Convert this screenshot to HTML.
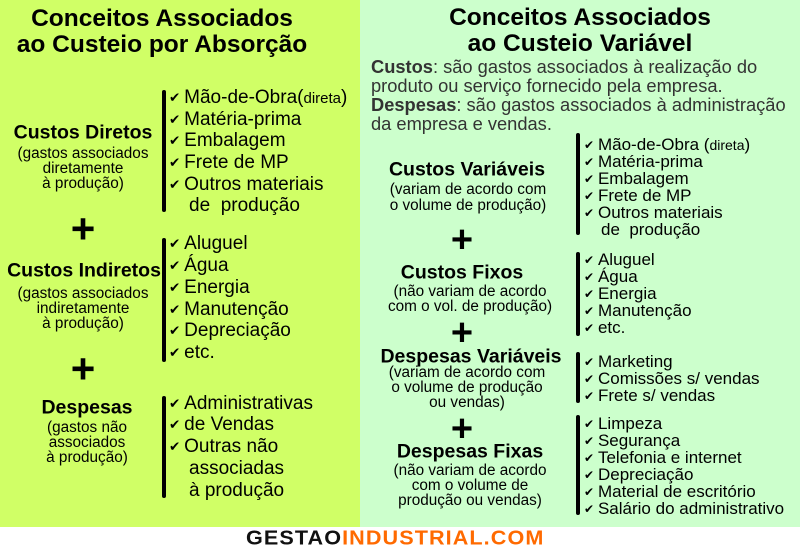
<!DOCTYPE html>
<html><head><meta charset="utf-8"><style>
body{margin:0;width:800px;height:550px;position:relative;overflow:hidden;background:#fff;font-family:"Liberation Sans",Arial,sans-serif;color:#000}
.l{position:absolute;left:0;top:0;width:360px;height:527px;background:#d0ff66}
.r{position:absolute;left:360px;top:0;width:440px;height:527px;background:#ccffcc}
.t{position:absolute;white-space:nowrap;transform:translateY(-50%)}
.c{transform:translate(-50%,-50%);text-align:center}
.b{font-weight:bold}
.br{position:absolute;width:4px;background:#000;border-radius:2px}
.pl{position:absolute;font-weight:bold;transform:translate(-50%,-50%);line-height:1}
.ck{font-size:0.7em;margin-right:4px;position:relative;top:-1px}
</style></head><body>
<div class="l"></div><div class="r"></div>

<div class="t c b" style="left:162px;top:19px;font-size:24.5px">Conceitos Associados</div>
<div class="t c b" style="left:162px;top:45px;font-size:24.5px">ao Custeio por Absorção</div>

<div class="t c b" style="left:83px;top:133px;font-size:19.5px">Custos Diretos</div>
<div class="t c" style="left:83px;top:154px;font-size:15.3px">(gastos associados</div>
<div class="t c" style="left:83px;top:169px;font-size:15.3px">diretamente</div>
<div class="t c" style="left:83px;top:184px;font-size:15.3px">à produção)</div>
<div class="pl" style="left:83px;top:229px;font-size:42px">+</div>
<div class="t c b" style="left:84px;top:271px;font-size:19.5px">Custos Indiretos</div>
<div class="t c" style="left:83px;top:294px;font-size:15.3px">(gastos associados</div>
<div class="t c" style="left:83px;top:309px;font-size:15.3px">indiretamente</div>
<div class="t c" style="left:83px;top:324px;font-size:15.3px">à produção)</div>
<div class="pl" style="left:83px;top:369px;font-size:42px">+</div>
<div class="t c b" style="left:87px;top:408px;font-size:19.5px">Despesas</div>
<div class="t c" style="left:87px;top:428px;font-size:15.3px">(gastos não</div>
<div class="t c" style="left:87px;top:443px;font-size:15.3px">associados</div>
<div class="t c" style="left:87px;top:458px;font-size:15.3px">à produção)</div>

<div class="br" style="left:162px;top:90px;height:122px"></div>
<div style="font-size:19px">
<div class="t" style="left:169px;top:98px"><span class="ck">✔</span>Mão-de-Obra(<span style="font-size:15px">direta</span>)</div>
<div class="t" style="left:169px;top:120px"><span class="ck">✔</span>Matéria-prima</div>
<div class="t" style="left:169px;top:141px"><span class="ck">✔</span>Embalagem</div>
<div class="t" style="left:169px;top:163px"><span class="ck">✔</span>Frete de MP</div>
<div class="t" style="left:169px;top:185px"><span class="ck">✔</span>Outros materiais</div>
<div class="t" style="left:189px;top:206px">de&nbsp; produção</div>
</div>
<div class="br" style="left:162px;top:238px;height:124px"></div>
<div style="font-size:19px">
<div class="t" style="left:169px;top:244px"><span class="ck">✔</span>Aluguel</div>
<div class="t" style="left:169px;top:266px"><span class="ck">✔</span>Água</div>
<div class="t" style="left:169px;top:288px"><span class="ck">✔</span>Energia</div>
<div class="t" style="left:169px;top:310px"><span class="ck">✔</span>Manutenção</div>
<div class="t" style="left:169px;top:331px"><span class="ck">✔</span>Depreciação</div>
<div class="t" style="left:169px;top:353px"><span class="ck">✔</span>etc.</div>
</div>
<div class="br" style="left:162px;top:396px;height:102px"></div>
<div style="font-size:19px">
<div class="t" style="left:169px;top:404px"><span class="ck">✔</span>Administrativas</div>
<div class="t" style="left:169px;top:425px"><span class="ck">✔</span>de Vendas</div>
<div class="t" style="left:169px;top:447px"><span class="ck">✔</span>Outras não</div>
<div class="t" style="left:189px;top:469px">associadas</div>
<div class="t" style="left:189px;top:491px">à produção</div>
</div>

<div class="t c b" style="left:580px;top:18px;font-size:24.5px">Conceitos Associados</div>
<div class="t c b" style="left:580px;top:44px;font-size:24.5px">ao Custeio Variável</div>
<div style="font-size:18.3px;color:#333">
<div class="t" style="left:371px;top:67px"><b>Custos</b>: são gastos associados à realização do</div>
<div class="t" style="left:371px;top:86px">produto ou serviço fornecido pela empresa.</div>
<div class="t" style="left:371px;top:105px"><b>Despesas</b>: são gastos associados à administração</div>
<div class="t" style="left:371px;top:124px">da empresa e vendas.</div>
</div>

<div class="t c b" style="left:467px;top:170px;font-size:19.5px">Custos Variáveis</div>
<div class="t c" style="left:468px;top:190px;font-size:15.3px">(variam de acordo com</div>
<div class="t c" style="left:468px;top:206px;font-size:15.3px">o volume de produção)</div>
<div class="pl" style="left:462px;top:240px;font-size:38px">+</div>
<div class="t c b" style="left:462px;top:273px;font-size:19.5px">Custos Fixos</div>
<div class="t c" style="left:470px;top:292px;font-size:15.3px">(não variam de acordo</div>
<div class="t c" style="left:470px;top:307px;font-size:15.3px">com o vol. de produção)</div>
<div class="pl" style="left:462px;top:333px;font-size:38px">+</div>
<div class="t c b" style="left:471px;top:357px;font-size:19.5px">Despesas Variáveis</div>
<div class="t c" style="left:467px;top:373px;font-size:15.3px">(variam de acordo com</div>
<div class="t c" style="left:467px;top:388px;font-size:15.3px">o volume de produção</div>
<div class="t c" style="left:467px;top:403px;font-size:15.3px">ou vendas)</div>
<div class="pl" style="left:462px;top:429px;font-size:38px">+</div>
<div class="t c b" style="left:470px;top:452px;font-size:19.5px">Despesas Fixas</div>
<div class="t c" style="left:470px;top:471px;font-size:15.3px">(não variam de acordo</div>
<div class="t c" style="left:470px;top:486px;font-size:15.3px">com o volume de</div>
<div class="t c" style="left:470px;top:501px;font-size:15.3px">produção ou vendas)</div>

<div style="font-size:17px">
<div class="br" style="left:576px;top:133px;height:102px"></div>
<div class="t" style="left:584px;top:145px"><span class="ck">✔</span>Mão-de-Obra (<span style="font-size:14px">direta</span>)</div>
<div class="t" style="left:584px;top:162px"><span class="ck">✔</span>Matéria-prima</div>
<div class="t" style="left:584px;top:179px"><span class="ck">✔</span>Embalagem</div>
<div class="t" style="left:584px;top:196px"><span class="ck">✔</span>Frete de MP</div>
<div class="t" style="left:584px;top:213px"><span class="ck">✔</span>Outros materiais</div>
<div class="t" style="left:601px;top:230px">de&nbsp; produção</div>
<div class="br" style="left:576px;top:252px;height:84px"></div>
<div class="t" style="left:584px;top:260px"><span class="ck">✔</span>Aluguel</div>
<div class="t" style="left:584px;top:277px"><span class="ck">✔</span>Água</div>
<div class="t" style="left:584px;top:294px"><span class="ck">✔</span>Energia</div>
<div class="t" style="left:584px;top:311px"><span class="ck">✔</span>Manutenção</div>
<div class="t" style="left:584px;top:328px"><span class="ck">✔</span>etc.</div>
<div class="br" style="left:576px;top:352px;height:51px"></div>
<div class="t" style="left:584px;top:362px"><span class="ck">✔</span>Marketing</div>
<div class="t" style="left:584px;top:379px"><span class="ck">✔</span>Comissões s/ vendas</div>
<div class="t" style="left:584px;top:396px"><span class="ck">✔</span>Frete s/ vendas</div>
<div class="br" style="left:576px;top:415px;height:100px"></div>
<div class="t" style="left:584px;top:424px"><span class="ck">✔</span>Limpeza</div>
<div class="t" style="left:584px;top:441px"><span class="ck">✔</span>Segurança</div>
<div class="t" style="left:584px;top:458px"><span class="ck">✔</span>Telefonia e internet</div>
<div class="t" style="left:584px;top:475px"><span class="ck">✔</span>Depreciação</div>
<div class="t" style="left:584px;top:492px"><span class="ck">✔</span>Material de escritório</div>
<div class="t" style="left:584px;top:509px"><span class="ck">✔</span>Salário do administrativo</div>
</div>

<div style="position:absolute;left:243px;top:527px;width:305px;height:23px;background:#fff"></div>
<div class="t b" style="left:246px;top:539px;font-size:20px;letter-spacing:1px;transform:translateY(-50%) scaleX(1.08);transform-origin:left center"><span style="color:#111">GESTAO</span><span style="color:#ff6a00">INDUSTRIAL.COM</span></div>
</body></html>
